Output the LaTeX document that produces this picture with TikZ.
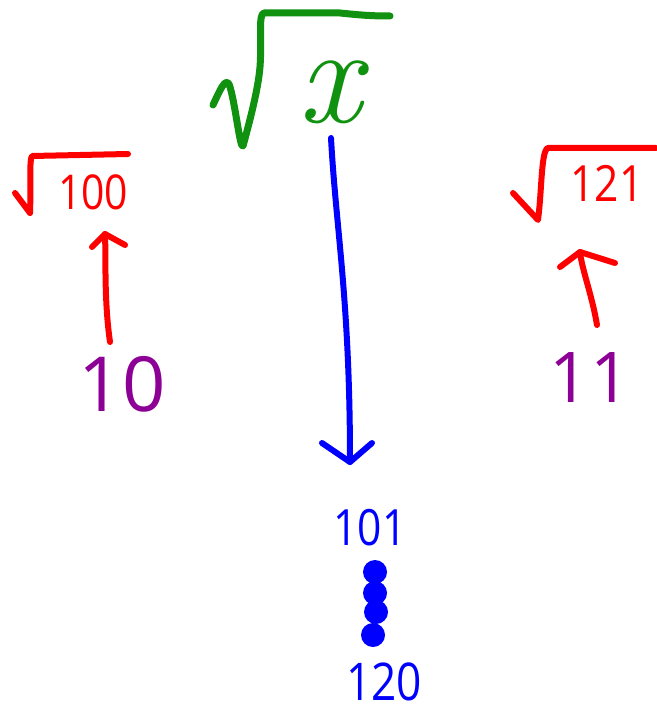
\documentclass[tikz,border=0pt]{standalone}
\usepackage{fontspec}
\setsansfont{Open Sans}
\begin{document}
\begin{tikzpicture}[x=1pt,y=-1pt,
  ink/.style={line width=#1, line cap=round, line join=round},
  ink/.default=6pt,
  num/.style={inner sep=0pt, font=\sffamily\fontsize{#1}{#1}\selectfont},
  dotmark/.style={circle, fill=blue, inner sep=0pt, minimum size=24pt}]
\definecolor{penGreen}{RGB}{16,145,16}
\definecolor{penPurple}{RGB}{140,0,150}
\useasboundingbox (0,0) rectangle (656,714);

% radical over x
\draw[penGreen, ink=7pt] (213,105) .. controls (220,90) and (225,78) .. (229,84)
  .. controls (235,100) and (240,150) .. (243,146)
  .. controls (250,120) and (258,90) .. (260,67)
  .. controls (262,40) and (258,14) .. (264,13) -- (340,13) .. controls (360,15) and (370,16) .. (390,16);
\node[penGreen, inner sep=0pt, font=\fontsize{140}{140}\selectfont\itshape] (x) at (330,92) {x};

% radical over 100
\draw[red, ink] (15,193) -- (30,213) .. controls (31,190) and (29,160) .. (32,156) -- (128,154);
\node[red, num=48, xscale=0.85] (n100) at (93,192) {100};

% radical over 121
\draw[red, ink] (513,193) -- (538,220) .. controls (542,190) and (541,150) .. (548,148) -- (656,148);
\node[red, num=50, xscale=0.85] (n121) at (607,183) {121};

% roots below
\node[penPurple, num=76] (n10) at (122,384) {10};
\node[penPurple, num=70] (n11) at (590,378) {11};

% arrows from roots up to radicals
\coordinate (a10) at (110,342);
\coordinate (t10) at (105,234);
\draw[red, ink] (a10) .. controls (104,300) and (106,260) .. (t10);
\draw[red, ink] (92,247) -- (t10) -- (125,245);

\coordinate (a11) at (597,325);
\coordinate (t11) at (580,252);
\draw[red, ink] (a11) .. controls (592,295) and (582,270) .. (t11);
\draw[red, ink] (560,267) -- (t11) -- (615,263);

% arrow from sqrt x down to the range
\coordinate (bs) at (331,138);
\coordinate (bt) at (350,462);
\draw[blue, ink] (bs) .. controls (336,230) and (350,300) .. (bt);
\draw[blue, ink] (322,443) -- (bt) -- (372,443);

\node[blue, num=50, xscale=0.85] (n101) at (370,528) {101};
\node[dotmark] (d1) at (375,572) {};
\node[dotmark] (d2) at (375,593) {};
\node[dotmark] (d3) at (376,612) {};
\node[dotmark] (d4) at (373,635) {};
\node[blue, num=52, xscale=0.85] (n120) at (384,682) {120};
\end{tikzpicture}
\end{document}
